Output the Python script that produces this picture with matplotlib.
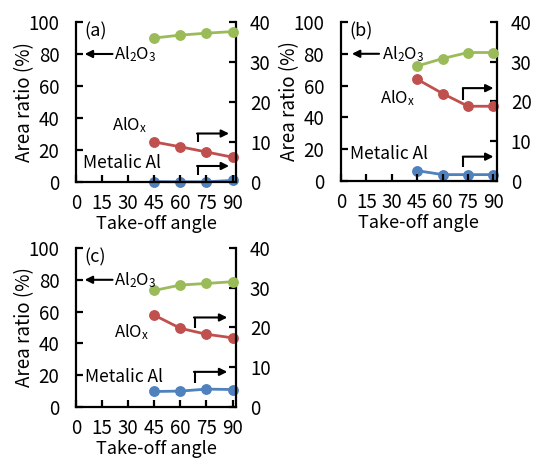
import matplotlib
matplotlib.use("Agg")
import matplotlib.pyplot as plt

plt.rcParams["font.family"] = ["Noto Sans CJK JP", "DejaVu Sans"]
plt.rcParams["mathtext.default"] = "regular"

# Data
angles = [45, 60, 75, 90]
panel_names = ["(a)", "(b)", "(c)"]
al2o3 = [  # left axis, %
    [90.0, 91.8, 93.0, 94.0],
    [72.3, 77.0, 80.8, 80.8],
    [73.3, 76.7, 77.7, 78.8],
]
alox = [  # right axis
    [10.0, 8.8, 7.5, 6.2],
    [25.6, 22.0, 18.8, 18.8],
    [23.1, 19.8, 18.3, 17.4],
]
metalic_al = [  # right axis
    [0.1, 0.05, 0.05, 0.4],
    [2.6, 1.6, 1.6, 1.6],
    [3.9, 4.0, 4.5, 4.4],
]

GREEN = "#9BBB59"
RED = "#C0504D"
BLUE = "#4F81BD"

# axes rectangles in figure fractions (a), (b), (c)
rects = [
    (0.1418, 0.6035, 0.2985, 0.3486),
    (0.6360, 0.6057, 0.2910, 0.3464),
    (0.1418, 0.1133, 0.2985, 0.3464),
]

# label/arrow placement in left-axis coordinates
labels = [
    dict(al2o3_arrow=(21, 5), al2o3_text=22, alox_text=(30.5, 35.5), metal_text=(4, 11.7),
         alox_arrow=(70, 25.1, 30.3, 88), metal_arrow=(70, 4.2, 10.0, 88)),
    dict(al2o3_arrow=(22.5, 6.5), al2o3_text=24.5, alox_text=(33.5, 52), metal_text=(5.4, 17),
         alox_arrow=(72.3, 51, 58.4, 90), metal_arrow=(72.3, 9.0, 15.3, 90)),
    dict(al2o3_arrow=(21, 5), al2o3_text=22, alox_text=(32, 47), metal_text=(5, 18.9),
         alox_arrow=(68.2, 49.8, 56.3, 87), metal_arrow=(68.2, 15.1, 22.1, 87)),
]

fig = plt.figure(figsize=(5.36, 4.59), dpi=100)

for i, rect in enumerate(rects):
    ax = fig.add_axes(rect)
    ax2 = ax.twinx()
    ax.set_zorder(2)
    ax.patch.set_visible(False)

    ax.plot(angles, al2o3[i], color=GREEN, lw=2, marker="o", ms=6.8, clip_on=False, zorder=3)
    ax2.plot(angles, alox[i], color=RED, lw=2, marker="o", ms=6.8, clip_on=False)
    ax2.plot(angles, metalic_al[i], color=BLUE, lw=2, marker="o", ms=6.8, clip_on=False)

    ax.set_xlim(0, 92)
    ax.set_ylim(0, 100)
    ax2.set_ylim(0, 40)
    ax.set_xticks([0, 15, 30, 45, 60, 75, 90])
    ax.set_yticks([0, 20, 40, 60, 80, 100])
    ax2.set_yticks([0, 10, 20, 30, 40])

    for a in (ax, ax2):
        a.spines["top"].set_visible(False)
        for s in ("left", "right", "bottom"):
            a.spines[s].set_linewidth(1.6)
        a.tick_params(direction="in", length=5, width=1.6, labelsize=13.5)
    ax.tick_params(axis="x", pad=8)
    ax.tick_params(axis="y", pad=12)
    ax2.tick_params(axis="y", pad=10)
    ax.spines["right"].set_visible(False)
    ax2.spines["left"].set_visible(False)
    ax2.spines["bottom"].set_visible(False)

    ax.set_ylabel("Area ratio (%)", fontsize=13.5, labelpad=-5)
    ax.set_xlabel("Take-off angle", fontsize=13, labelpad=1)

    ax.text(5, 94, panel_names[i], fontsize=13, ha="left", va="center")

    lab = labels[i]
    x0, x1 = lab["al2o3_arrow"]
    ax.annotate("", xy=(x1, 80), xytext=(x0, 80),
                arrowprops=dict(arrowstyle="-|>", color="k", lw=1.5, mutation_scale=11,
                                shrinkA=0, shrinkB=0))
    ax.text(lab["al2o3_text"], 80, "Al$_2$O$_3$", fontsize=12, ha="left", va="center")
    ax.text(*lab["alox_text"], "AlO$_x$", fontsize=12, ha="center", va="center")
    ax.text(*lab["metal_text"], "Metalic Al", fontsize=12.5, ha="left", va="center")

    for key in ("alox_arrow", "metal_arrow"):
        xv, ylo, yhi, xend = lab[key]
        ax.plot([xv, xv], [ylo, yhi], color="k", lw=1.5, solid_capstyle="butt")
        ax.annotate("", xy=(xend, yhi), xytext=(xv - 0.4, yhi),
                    arrowprops=dict(arrowstyle="-|>", color="k", lw=1.5, mutation_scale=11,
                                    shrinkA=0, shrinkB=0))

fig.savefig("out.png", dpi=100)
